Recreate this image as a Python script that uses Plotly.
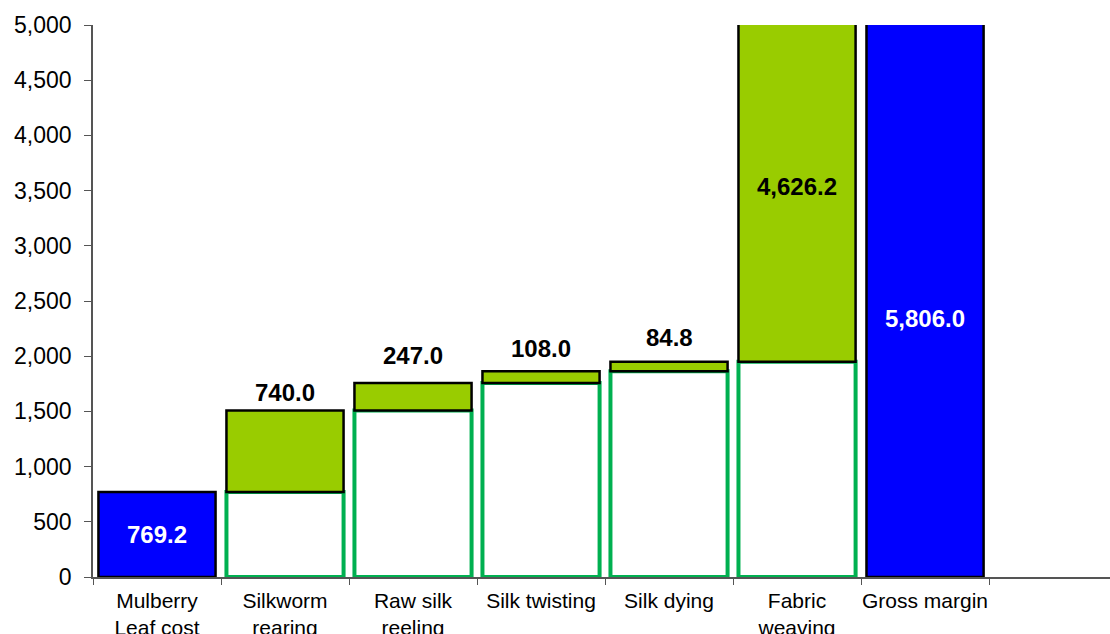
import plotly.graph_objects as go

categories = ["Mulberry<br>Leaf cost", "Silkworm<br>rearing", "Raw silk<br>reeling",
              "Silk twisting", "Silk dying", "Fabric<br>weaving", "Gross margin"]
step_values = [769.2, 740.0, 247.0, 108.0, 84.8, 4626.2, 5806.0]
step_kind = ["total", "delta", "delta", "delta", "delta", "delta", "total"]
y_ticks = [0, 500, 1000, 1500, 2000, 2500, 3000, 3500, 4000, 4500, 5000]
y_max = 5000

FONT = "Liberation Sans, Arial, sans-serif"
BLUE = "#0000FF"
LIME = "#99CC00"
GREEN_EDGE = "#00B050"
W = 0.915

# compute bases for the waterfall
bases, tops = [], []
cum = 0.0
for v, k in zip(step_values, step_kind):
    if k == "total":
        bases.append(0.0)
        tops.append(v)
        cum = v
    else:
        bases.append(cum)
        tops.append(cum + v)
        cum += v

fig = go.Figure()

delta_idx = [i for i, k in enumerate(step_kind) if k == "delta"]
total_idx = [i for i, k in enumerate(step_kind) if k == "total"]

# white support boxes under each delta
fig.add_trace(go.Bar(
    x=[categories[i] for i in delta_idx],
    y=[bases[i] for i in delta_idx],
    base=0, width=W,
    marker=dict(color="white", line=dict(color=GREEN_EDGE, width=4)),
    hoverinfo="skip", showlegend=False))

# delta bars
fig.add_trace(go.Bar(
    x=[categories[i] for i in delta_idx],
    y=[step_values[i] for i in delta_idx],
    base=[bases[i] for i in delta_idx], width=W,
    marker=dict(color=LIME, line=dict(color="black", width=2.5)),
    showlegend=False))

# total bars
fig.add_trace(go.Bar(
    x=[categories[i] for i in total_idx],
    y=[step_values[i] for i in total_idx],
    base=0, width=W,
    marker=dict(color=BLUE, line=dict(color="black", width=2.5)),
    showlegend=False))

# data labels
label_shift = {2: 10, 3: 5, 4: 7, 5: 7, 6: -17}
for i, (v, k) in enumerate(zip(step_values, step_kind)):
    txt = f"{v:,.1f}"
    if k == "total" or tops[i] > y_max:
        ymid = (bases[i] + min(tops[i], y_max)) / 2
        fig.add_annotation(x=categories[i], y=ymid, text=f"<b>{txt}</b>",
                           showarrow=False, yshift=label_shift.get(i, 0),
                           font=dict(family=FONT, size=24,
                                     color="white" if k == "total" else "black"))
    else:
        fig.add_annotation(x=categories[i], y=tops[i], text=f"<b>{txt}</b>",
                           showarrow=False, yanchor="bottom",
                           yshift=2 + label_shift.get(i, 0),
                           font=dict(family=FONT, size=24, color="black"))

fig.update_layout(
    width=1110, height=634,
    margin=dict(l=93, r=0, t=25, b=57, autoexpand=False),
    paper_bgcolor="white", plot_bgcolor="white",
    barmode="overlay",
    font=dict(family=FONT, size=21, color="black"),
    showlegend=False,
)
fig.update_xaxes(
    type="category", categoryorder="array", categoryarray=categories,
    range=[-0.5, 7.445], automargin=False, tickangle=0,
    showline=True, linecolor="#555555", linewidth=1.5,
    ticks="outside", tickson="boundaries", ticklen=6, tickcolor="#555555",
    ticklabelstandoff=4,
    tickfont=dict(family=FONT, size=21, color="black"),
    showgrid=False, zeroline=False,
)
fig.update_yaxes(
    range=[0, y_max], tickvals=y_ticks, automargin=False,
    ticktext=[f"{t:,}" for t in y_ticks],
    showline=True, linecolor="#555555", linewidth=1.5,
    ticks="outside", ticklen=7, tickcolor="#555555",
    ticklabelstandoff=8,
    tickfont=dict(family=FONT, size=23, color="black"),
    showgrid=False, zeroline=False,
)

fig.write_html("out.html", config={"displayModeBar": False})
